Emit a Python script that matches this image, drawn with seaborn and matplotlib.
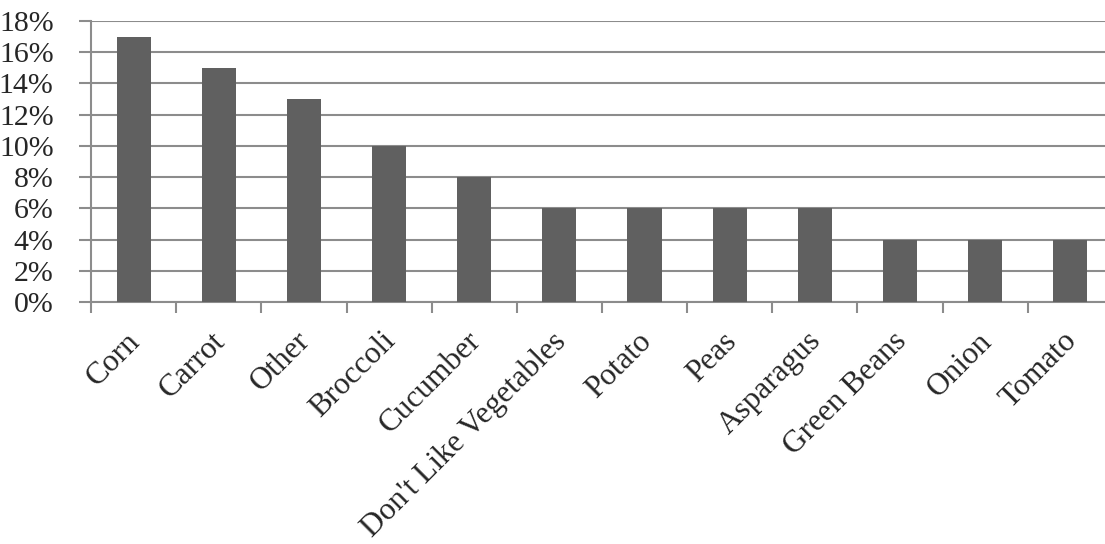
import matplotlib
matplotlib.use("Agg")
import matplotlib.pyplot as plt
import matplotlib.transforms as mtransforms
import seaborn as sns
import pandas as pd
import numpy as np
from matplotlib.ticker import FixedLocator, PercentFormatter

categories = ["Corn", "Carrot", "Other", "Broccoli", "Cucumber", "Don't Like Vegetables",
              "Potato", "Peas", "Asparagus", "Green Beans", "Onion", "Tomato"]
shares = [17, 15, 13, 10, 8, 6, 6, 6, 6, 4, 4, 4]
y_ticks = [0, 2, 4, 6, 8, 10, 12, 14, 16, 18]

sns.set_style("white")
plt.rcParams["font.family"] = ["Liberation Serif", "DejaVu Serif"]

df = pd.DataFrame({"category": categories, "share": shares})

fig = plt.figure(figsize=(11.05, 5.44), dpi=100)
ax = fig.add_axes([0.0824, 0.4449, 0.9247, 0.5165])

sns.barplot(data=df, x="category", y="share", color="#606060", width=0.4,
            saturation=1, linewidth=0, ax=ax, zorder=3)

grid_c = "#8c8c8c"
ax.set_xlim(-0.5, len(categories) - 0.5)
ax.set_ylim(0, 18)
ax.yaxis.set_major_locator(FixedLocator(y_ticks))
ax.yaxis.set_major_formatter(PercentFormatter(decimals=0))
ax.grid(axis="y", color=grid_c, linewidth=1.5, zorder=0)
ax.set_axisbelow(True)

for side in ["top", "right"]:
    ax.spines[side].set_visible(False)
for side in ["left", "bottom"]:
    ax.spines[side].set_color(grid_c)
    ax.spines[side].set_linewidth(1.5)

ax.tick_params(axis="y", which="major", length=9, width=1.5, color=grid_c,
               labelsize=21.5, pad=18, left=True)
ax.tick_params(axis="x", which="major", length=0, labelsize=22.5, pad=12)
ax.xaxis.set_minor_locator(FixedLocator(np.arange(-0.5, len(categories), 1.0)))
ax.tick_params(axis="x", which="minor", length=8, width=1.5, color=grid_c, bottom=True)

ax.set_xticks(range(len(categories)))
ax.set_xticklabels(categories, rotation=45, ha="right", rotation_mode="anchor")
# nudge the slanted labels down-left along their baseline
shift = mtransforms.ScaledTranslation(-8 / 100, -8 / 100, fig.dpi_scale_trans)
for lab in ax.get_xticklabels():
    lab.set_transform(lab.get_transform() + shift)
for lab in ax.get_yticklabels():
    lab.set_horizontalalignment("right")

ax.set_xlabel("")
ax.set_ylabel("")

fig.savefig("out.png", dpi=100)
